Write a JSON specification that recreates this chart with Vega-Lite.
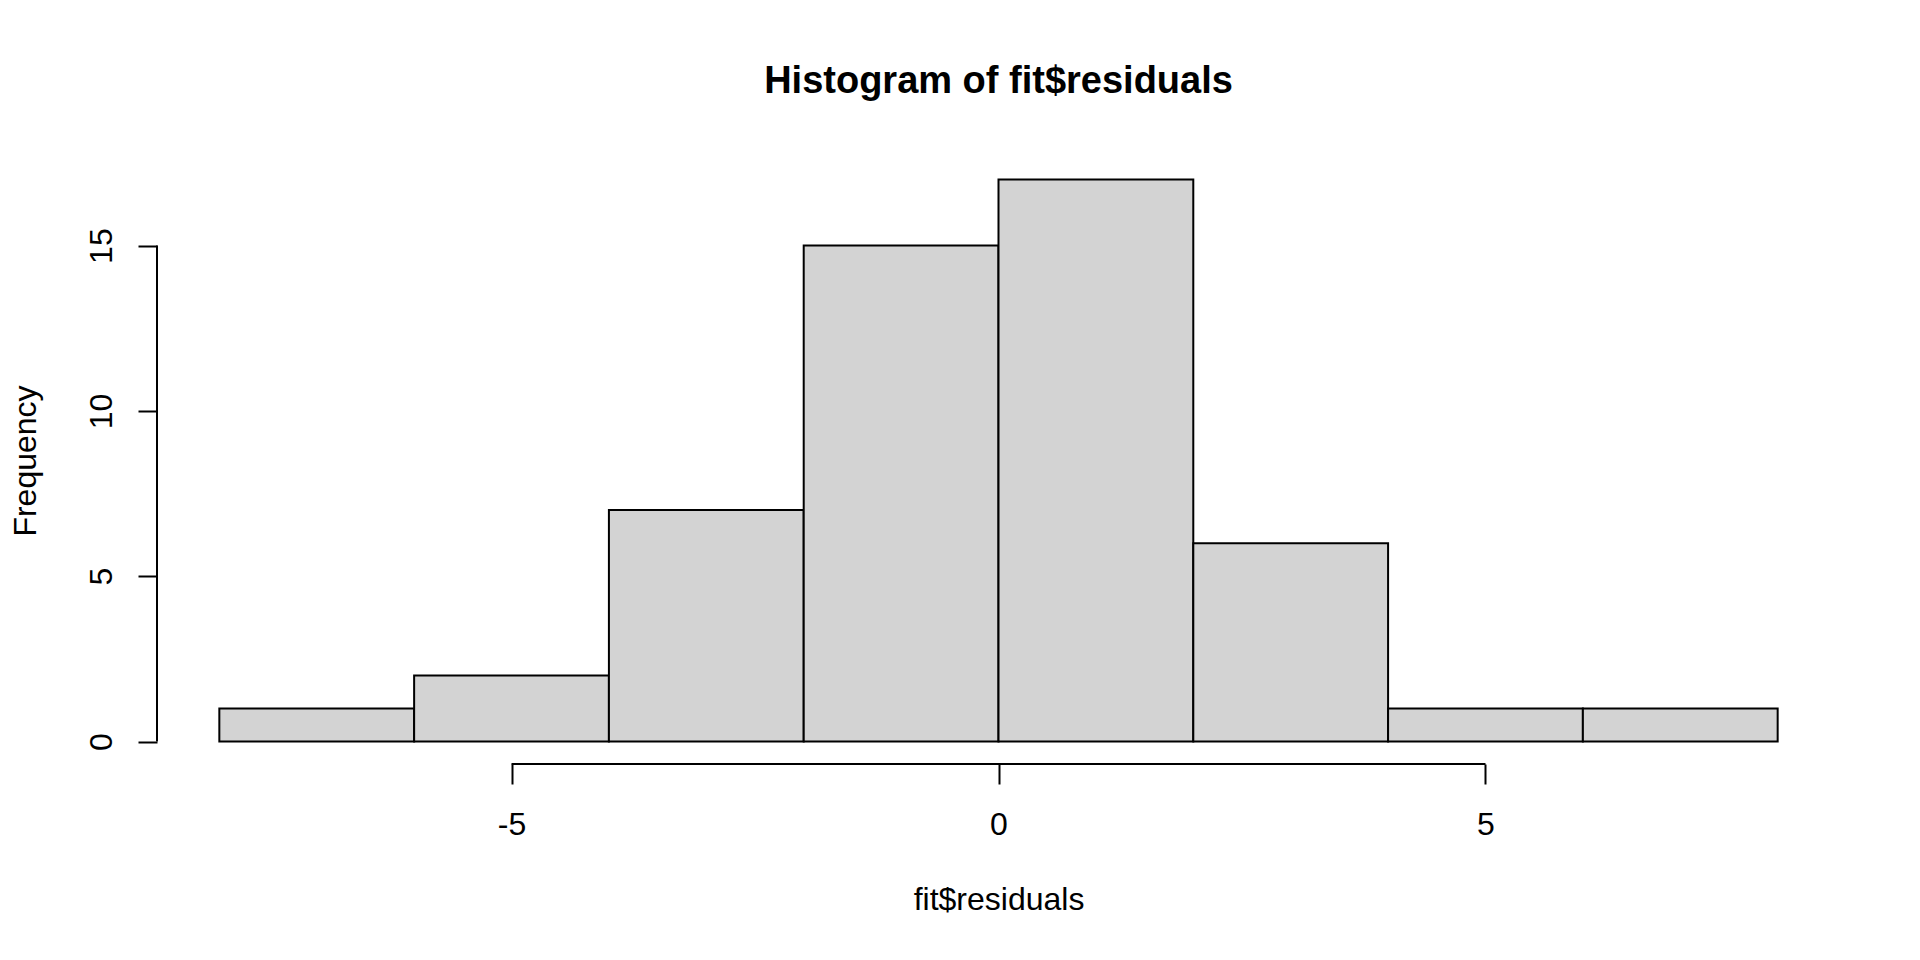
{
  "$schema": "https://vega.github.io/schema/vega-lite/v6.json",
  "width": 1683,
  "height": 607,
  "autosize": {"type": "none"},
  "padding": {"left": 157, "top": 157, "right": 80, "bottom": 196},
  "background": "white",
  "config": {
    "view": {"stroke": null},
    "font": "Liberation Sans",
    "axis": {
      "domain": false, "grid": false,
      "tickColor": "black", "tickWidth": 2,
      "labelFont": "Liberation Sans", "labelFontSize": 32, "labelColor": "black",
      "labelFlush": false, "labelOverlap": false,
      "labelExpr": "'' + datum.value",
      "titleFont": "Liberation Sans", "titleFontSize": 32, "titleFontWeight": "normal", "titleColor": "black"
    },
    "axisX": {
      "tickSize": 20, "labelBaseline": "alphabetic", "labelPadding": 50,
      "titleBaseline": "alphabetic", "titleX": 841.5, "titleY": 145, "titleAlign": "center"
    },
    "axisY": {
      "tickSize": 19, "labelAngle": -90, "labelAlign": "center", "labelBaseline": "alphabetic", "labelPadding": 27,
      "titleAngle": -90, "titleBaseline": "alphabetic", "titleAlign": "center", "titleX": -122, "titleY": 303.5
    }
  },
  "title": {
    "text": "Histogram of fit$residuals",
    "anchor": "middle",
    "frame": "group",
    "orient": "top",
    "baseline": "alphabetic",
    "offset": 26,
    "fontSize": 38,
    "fontWeight": "bold",
    "font": "Liberation Sans",
    "color": "black"
  },
  "datasets": {
    "bins": [
      {"start": -8, "end": -6, "count": 1},
      {"start": -6, "end": -4, "count": 2},
      {"start": -4, "end": -2, "count": 7},
      {"start": -2, "end": 0, "count": 15},
      {"start": 0, "end": 2, "count": 17},
      {"start": 2, "end": 4, "count": 6},
      {"start": 4, "end": 6, "count": 1},
      {"start": 6, "end": 8, "count": 1}
    ],
    "xline": [{"from": -5, "to": 5, "at": -0.68}],
    "yline": [{"from": 0, "to": 15, "at": -8.64}]
  },
  "layer": [
    {
      "data": {"name": "bins"},
      "mark": {"type": "rect", "fill": "#D3D3D3", "stroke": "black", "strokeWidth": 2},
      "encoding": {
        "x": {
          "field": "start", "type": "quantitative",
          "scale": {"domain": [-8.64, 8.64], "nice": false, "zero": false},
          "axis": {"values": [-5, 0, 5], "title": "fit$residuals"}
        },
        "x2": {"field": "end"},
        "y": {
          "field": "count", "type": "quantitative",
          "scale": {"domain": [-0.68, 17.68], "nice": false, "zero": false},
          "axis": {"values": [0, 5, 10, 15], "title": "Frequency"}
        },
        "y2": {"datum": 0}
      }
    },
    {
      "data": {"name": "xline"},
      "mark": {"type": "rule", "color": "black", "strokeWidth": 2},
      "encoding": {
        "x": {"field": "from", "type": "quantitative", "axis": {"values": [-5, 0, 5], "title": "fit$residuals"}},
        "x2": {"field": "to"},
        "y": {"field": "at", "type": "quantitative", "axis": {"values": [0, 5, 10, 15], "title": "Frequency"}}
      }
    },
    {
      "data": {"name": "yline"},
      "mark": {"type": "rule", "color": "black", "strokeWidth": 2},
      "encoding": {
        "y": {"field": "from", "type": "quantitative", "axis": {"values": [0, 5, 10, 15], "title": "Frequency"}},
        "y2": {"field": "to"},
        "x": {"field": "at", "type": "quantitative", "axis": {"values": [-5, 0, 5], "title": "fit$residuals"}}
      }
    }
  ]
}
